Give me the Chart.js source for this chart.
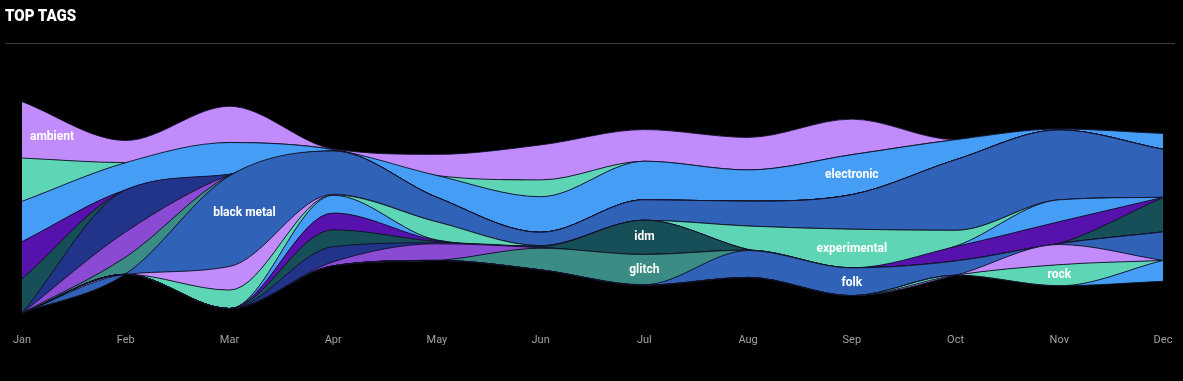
<!DOCTYPE html>
<html><head><meta charset="utf-8">
<script src="https://cdn.jsdelivr.net/npm/chart.js@4.4.0/dist/chart.umd.min.js"></script>
<style>
html,body{margin:0;padding:0;background:#000;}
#wrap{position:relative;width:1183px;height:381px;overflow:hidden;background:#000;}
#title{position:absolute;left:5px;top:5px;color:#fff;font-weight:900;font-size:17px;font-family:"Roboto",sans-serif;white-space:nowrap;transform:scaleX(0.885);transform-origin:0 0;}
#rule{position:absolute;left:5px;top:43px;width:1170px;height:1px;background:#3a3a3a;}
canvas{position:absolute;left:0;top:0;}
</style></head><body>
<div id="wrap"><canvas id="c" width="1183" height="381"></canvas><div id="title">TOP TAGS</div><div id="rule"></div></div>
<script>
const months = ['Jan','Feb','Mar','Apr','May','Jun','Jul','Aug','Sep','Oct','Nov','Dec'];

// Tag values per month, in stacking order from top to bottom
const ambient      = [56, 22, 36, 0.5, 21, 34.7, 31.4, 32.3, 35.3, 0, 0, 0];
const tag2         = [43, 0, 0, 0, 0, 16.7, 0, 0, 0, 0, 0, 0];
const electronic   = [40, 27, 31.6, 1.5, 21.7, 35.3, 38.3, 31, 39.7, 20, 1, 15.7];
const tag4         = [37, 0, 0, 0, 0, 0, 0, 0, 0, 0, 0, 0];
const tag5         = [34, 0, 0, 0, 0, 0, 0, 0, 0, 0, 0, 0];
const tag6         = [0, 41.7, 0.5, 0, 0, 0, 0, 0, 0, 0, 0, 0];
const tag7         = [0, 25, 0.5, 0, 0, 0, 0, 0, 0, 0, 0, 0];
const tag8         = [0, 16.7, 0.5, 0, 0, 0, 0, 0, 0, 0, 0, 0];
const blackMetal   = [0, 0.5, 90, 43, 24.3, 13.3, 20.3, 24.7, 34.3, 70, 69.3, 47.7];
const tag10        = [0, 0, 23.4, 0.5, 0, 0, 0, 0, 0, 0, 0, 0];
const experimental = [0, 0, 18.3, 0.5, 18, 0.5, 0, 23.3, 38.4, 15.7, 0, 0];
const tag12        = [0, 0, 0, 17.6, 0.5, 0, 0, 0, 0, 0.5, 21.7, 0];
const tag13        = [0, 0, 0, 16.7, 1, 0, 0, 0, 0, 14.3, 21.7, 0];
const idm          = [0, 0, 0, 16.7, 1.3, 1, 34, 0.5, 0, 0, 0, 34.3];
const tag15        = [0, 0, 0, 15, 1, 0.5, 0, 0, 0, 0, 0, 0];
const tag16        = [0, 0, 0, 4, 16.5, 0.5, 0, 0, 0, 0, 0, 0];
const glitch       = [0, 0, 0, 0, 0, 21.5, 30, 0.5, 0, 0, 0, 0];
const folk         = [0, 0, 0, 0, 0, 0, 0.5, 26.7, 27.6, 14, 1, 28.3];
const tag19        = [0, 0, 0, 0, 0, 0, 0, 0, 0, 0, 20, 0];
const rock         = [0, 0, 0, 0, 0, 0, 0, 0, 0, 0, 21, 0];
const tag21        = [0, 0, 0, 0, 0, 0, 0, 0, 0, 0, 0, 20.7];

const tagNames = ['ambient','','electronic','','','','','','black metal','','experimental','','','idm','','','glitch','folk','','rock',''];
const tagValues = [ambient, tag2, electronic, tag4, tag5, tag6, tag7, tag8, blackMetal, tag10, experimental, tag12, tag13, idm, tag15, tag16, glitch, folk, tag19, rock, tag21];

const palette = ['#c18bfc','#5ed5b5','#459df5','#5712ad','#174f58','#22348a','#8a4ad4','#3a8c84','#3062b7'];

// Build silhouette-centred stack (bottom layer first)
const totals = months.map((_, i) => tagValues.reduce((s, arr) => s + arr[i], 0));
const baseline = totals.map(t => -t / 2);
const lowers = [], uppers = [];
let running = baseline.slice();
for (let k = tagValues.length - 1; k >= 0; k--) {
  lowers[k] = running.slice();
  running = running.map((v, i) => v + tagValues[k][i]);
  uppers[k] = running.slice();
}

const lineStroke = 'rgba(18,18,40,0.9)';
const datasets = [{
  label: 'base', data: baseline, borderColor: lineStroke, borderWidth: 1, fill: false, pointRadius: 0
}];
for (let k = tagValues.length - 1; k >= 0; k--) {
  datasets.push({
    label: tagNames[k] || ('tag ' + (k + 1)),
    data: uppers[k],
    backgroundColor: palette[k % palette.length],
    borderColor: lineStroke,
    borderWidth: 1,
    fill: '-1',
    pointRadius: 0
  });
}

const labelSpecs = [
  {k: 0, month: 0, dx: 0, dy: 7.5},
  {k: 8, month: 2, dx: 15, dy: -8},
  {k: 2, month: 8, dx: 0, dy: 0},
  {k: 13, month: 6, dx: 0, dy: 0},
  {k: 16, month: 6, dx: 0, dy: 0},
  {k: 10, month: 8, dx: 0, dy: 0},
  {k: 17, month: 8, dx: 0, dy: 1},
  {k: 19, month: 10, dx: 0, dy: 0}
];

const labelPlugin = {
  id: 'streamLabels',
  afterDatasetsDraw(chart) {
    const {ctx, chartArea, scales} = chart;
    ctx.save();
    ctx.font = 'bold 12px Roboto, sans-serif';
    ctx.fillStyle = '#ffffff';
    ctx.textAlign = 'center';
    ctx.textBaseline = 'middle';
    labelSpecs.forEach(s => {
      const mid = (lowers[s.k][s.month] + uppers[s.k][s.month]) / 2;
      const w = ctx.measureText(tagNames[s.k]).width;
      let x = scales.x.getPixelForValue(s.month) + s.dx;
      x = Math.max(chartArea.left + 8 + w / 2, Math.min(chartArea.right - 8 - w / 2, x));
      const y = scales.y.getPixelForValue(mid) + s.dy;
      ctx.fillText(tagNames[s.k], x, y);
    });
    ctx.restore();
  }
};

new Chart(document.getElementById('c'), {
  type: 'line',
  data: {labels: months, datasets},
  options: {
    responsive: false,
    animation: false,
    events: [],
    layout: {padding: {top: 83, left: 22, right: 20, bottom: 32}},
    elements: {line: {cubicInterpolationMode: 'monotone'}},
    plugins: {legend: {display: false}, tooltip: {enabled: false}, filler: {propagate: false}},
    scales: {
      x: {
        grid: {display: false, drawTicks: false},
        border: {display: false},
        ticks: {color: '#a0a0a0', font: {family: 'Roboto, sans-serif', size: 11}, padding: 2, maxRotation: 0, autoSkip: false}
      },
      y: {display: false, min: -123.5, max: 123.5}
    }
  },
  plugins: [labelPlugin]
});
</script>
</body></html>
